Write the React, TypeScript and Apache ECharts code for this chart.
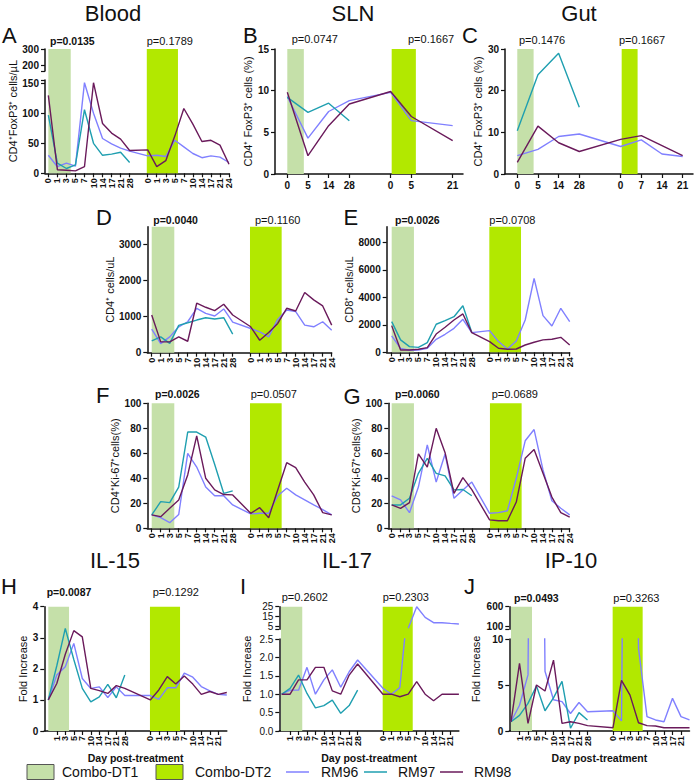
import React, { useEffect, useRef } from 'react';
import * as echarts from 'echarts';

const FONT = '"Liberation Sans", Arial, Helvetica, sans-serif';
const INK = '#111111';
const RM96_COLOR = '#8080FF';
const RM97_COLOR = '#1F9FB0';
const RM98_COLOR = '#6A1A5B';
const DT1_COLOR = '#C5E0A9';
const DT2_COLOR = '#B2E800';

const SERIES_NAMES = ['RM96', 'RM97', 'RM98'];
const SERIES_COLORS = [RM96_COLOR, RM97_COLOR, RM98_COLOR];

// x tick labels (days post-treatment)
const DAYS_P1 = ['0', '1', '3', '5', '7', '10', '14', '17', '21', '28'];
const DAYS_P2 = ['0', '1', '3', '5', '7', '10', '14', '17', '21', '24'];
const DAYS_ROT = [...DAYS_P1, ...DAYS_P2];
const SLN_DAYS = ['0', '5', '14', '28', '0', '5', '21'];
const GUT_DAYS = ['0', '5', '14', '28', '0', '7', '14', '21'];

const N = null;

// A: Blood CD4+FoxP3+ cells/uL
const A_RM96 = [30, 11, 17, 12, 151, 100, 58, 49, 42, 37, 29, 30, 28, 55, 44, 33, 26, 29, 27, 18];
const A_RM97 = [97, 17, 8, 14, 106, 50, 30, 32, 35, 18, N, N, N, N, N, N, N, N, N, N];
const A_RM98 = [130, 6, 5, 4, 11, 151, 83, 67, 57, 38, 39, 11, 21, 62, 108, 82, 53, 55, 47, 15];
// B: SLN CD4+FoxP3+ (%)
const B_RM96 = [9.3, 4.3, 7.5, 8.8, 9.8, 6.4, 5.8];
const B_RM97 = [9.2, 7.4, 8.5, 6.4, N, N, N];
const B_RM98 = [9.8, 2.2, 5.8, 8.4, 9.9, 6.9, 4.0];
// C: Gut CD4+FoxP3+ (%)
const C_RM96 = [4.4, 5.9, 9.0, 9.6, 6.6, 8.2, 4.8, 4.2];
const C_RM97 = [10.4, 23.8, 29.0, 16.0, N, N, N, N];
const C_RM98 = [2.8, 11.5, 7.5, 5.4, 8.3, 9.2, N, 4.4];
// D: CD4+ cells/uL
const D_RM96 = [654, 252, 440, 720, 860, 1234, 1093, 1019, 1215, 850, 673, 580, 440, 925, 1187, 1140, 766, 720, 860, 626];
const D_RM97 = [330, 440, 260, 760, 832, 907, 972, 935, 972, 514, N, N, N, N, N, N, N, N, N, N];
const D_RM98 = [1047, 300, 300, 440, 318, 1374, 1262, 1168, 1346, 1047, 720, 346, 560, 813, 1234, 1159, 1673, 1467, 1299, 766];
// E: CD8+ cells/uL
const E_RM96 = [1190, 290, 150, 170, 290, 945, 1310, 1745, 2400, 1430, 1575, 780, 240, 820, 2350, 5380, 2670, 1915, 3200, 2230];
const E_RM97 = [2230, 900, 410, 360, 700, 2040, 2300, 2590, 3390, 1450, N, N, N, N, N, N, N, N, N, N];
const E_RM98 = [1940, 170, 170, 220, 340, 1330, 1820, 2350, 2790, 1430, 780, 290, 220, 240, 530, 730, 900, 945, 1090, 530];
// F: CD4+Ki-67+ (%)
const F_RM96 = [10.7, 8.5, 4.5, 11, 60, 49, 33, 26, 26, 18.7, 11.5, 12, 12, 26, 32, 26.7, 22.7, 18.7, 15, 10.7];
const F_RM97 = [10.7, 21.3, 20.5, 33, 77, 77, 73, 51, 28, 30, N, N, N, N, N, N, N, N, N, N];
const F_RM98 = [10.7, 9.3, 16, 22.7, 42.7, 74, 40, 30.7, 27, 26.7, 12, 16.5, 8.5, 30.7, 52.5, 48.5, 37, 26.7, 12.5, 10.7];
// G: CD8+Ki-67+ (%)
const G_RM96 = [26, 22.7, 12.5, 33, 66.7, 37, 59.5, 24, 30.7, 37, 12, 12.5, 14, 40, 70, 79, 46.7, 22, 16, 10.7];
const G_RM97 = [18.7, 18.7, 24, 44, 56, 44, 42, 30.7, 31, 26, N, N, N, N, N, N, N, N, N, N];
const G_RM98 = [18.7, 16, 20.5, 59.5, 49, 80, 60.5, 28, 40.5, 31, 6.7, 6, 6, 21, 56, 63, 44, 25, 12.5, 9];
// H: IL-15 fold increase
const H_RM96 = [1.0, 1.8, 2.07, 2.82, 1.69, 1.37, 1.42, 1.08, 1.42, 1.14, 1.14, 1.02, 1.39, 1.39, 1.86, 1.73, 1.43, 1.29, 1.18, 1.16];
const H_RM97 = [1.0, 2.1, 3.3, 2.3, 1.37, 0.94, 1.1, 1.5, 1.07, 1.8, N, N, N, N, N, N, N, N, N, N];
const H_RM98 = [1.0, 1.53, 2.47, 3.23, 3.03, 1.37, 1.3, 1.21, 1.46, 1.37, 1.0, 1.32, 1.75, 1.51, 1.77, 1.51, 1.18, 1.27, 1.18, 1.24];
// I: IL-17 fold increase
const I_RM96 = [1.0, 1.11, 1.11, 1.73, 1.0, 1.39, 1.66, 1.19, 1.61, 1.93, 1.16, 1.0, 1.18, 3.5, 25, 14.3, 9, 9, 8.3, 7.7];
const I_RM97 = [1.0, 1.16, 1.52, 1.02, 0.63, 0.69, 0.84, 0.48, 0.69, 1.11, N, N, N, N, N, N, N, N, N, N];
const I_RM98 = [1.0, 1.0, 1.39, 1.39, 1.73, 1.73, 1.09, 1.0, 1.52, 1.82, 1.0, 1.0, 0.93, 1.0, 1.34, 1.0, 0.82, 1.0, 1.0, 1.0];
// J: IP-10 fold increase
const J_RM96 = [1.0, 2.8, 6.1, 110, 6.5, 3.4, 3.2, 1.9, 3.1, 2.1, 2.2, 1.1, 110, 9.0, 1.56, 1.2, 1.0, 3.55, 1.56, 1.2];
const J_RM97 = [1.0, 1.7, 3.0, 4.9, 2.2, 3.6, 5.4, 0.3, 2.0, 1.2, N, N, N, N, N, N, N, N, N, N];
const J_RM98 = [1.0, 7.35, 0.83, 5.0, 4.35, 7.7, 0.83, 1.0, 0.83, 0.58, 0.36, 5.5, 3.9, 0.9, 0.58, 0.54, 0.36, 0.36, 0.36, 0.36];

// p-values
const P_VALUES = [
  { t: 'p=0.0135', bold: true, x: 50, y: 40.7 }, { t: 'p=0.1789', bold: false, x: 146.7, y: 40.7 },
  { t: 'p=0.0747', bold: false, x: 291.7, y: 38.5 }, { t: 'p=0.1667', bold: false, x: 408, y: 38.5 },
  { t: 'p=0.1476', bold: false, x: 519, y: 40 }, { t: 'p=0.1667', bold: false, x: 619, y: 40 },
  { t: 'p=0.0040', bold: true, x: 153.3, y: 219.5 }, { t: 'p=0.1160', bold: false, x: 255, y: 219.5 },
  { t: 'p=0.0026', bold: true, x: 395, y: 219.5 }, { t: 'p=0.0708', bold: false, x: 489.3, y: 219.5 },
  { t: 'p=0.0026', bold: true, x: 155, y: 393.5 }, { t: 'p=0.0507', bold: false, x: 250.7, y: 393.5 },
  { t: 'p=0.0060', bold: true, x: 395, y: 393.5 }, { t: 'p=0.0689', bold: false, x: 491.7, y: 393.5 },
  { t: 'p=0.0087', bold: true, x: 46.7, y: 592.3 }, { t: 'p=0.1292', bold: false, x: 152.7, y: 592.3 },
  { t: 'p=0.2602', bold: false, x: 281.7, y: 596.5 }, { t: 'p=0.2303', bold: false, x: 382.7, y: 596.5 },
  { t: 'p=0.0493', bold: true, x: 514, y: 597.5 }, { t: 'p=0.3263', bold: false, x: 613.3, y: 597.5 },
];

const TITLES = [
  { t: 'Blood', x: 113, y: 13 }, { t: 'SLN', x: 353, y: 13 }, { t: 'Gut', x: 579, y: 13 },
  { t: 'IL-15', x: 115, y: 560 }, { t: 'IL-17', x: 347, y: 560 }, { t: 'IP-10', x: 571, y: 560 },
];
const LETTERS = [
  { t: 'A', x: 2, y: 35 }, { t: 'B', x: 243, y: 35 }, { t: 'C', x: 462, y: 35 },
  { t: 'D', x: 96, y: 217.5 }, { t: 'E', x: 343.5, y: 217 },
  { t: 'F', x: 96, y: 395 }, { t: 'G', x: 343.5, y: 396 },
  { t: 'H', x: 1, y: 586.5 }, { t: 'I', x: 240, y: 586.5 }, { t: 'J', x: 464, y: 586.5 },
];

const posRot = (off: number) => [...DAYS_P1.map((_, i) => i), ...DAYS_P2.map((_, i) => off + i)];
const SLN_POS = [0, 1, 2, 3, 5, 6, 8];
const GUT_POS = [0, 1, 2, 3, 5, 6, 7, 8];

type Seg = { top: number; bottom: number; min: number; max: number; labels: number[]; ticks: number[]; decimals?: number; bold?: boolean };
type Panel = {
  left: number; width: number; top: number; bottom: number; xMin: number; xMax: number;
  pos: number[]; days: string[]; rotate: boolean; bands: number[][]; segs: Seg[];
  yName: string; nameGap: number; xName?: string; values: (number | null)[][];
};

const FOLD = 'Fold Increase';
const DAY = 'Day post-treatment';

const PANELS: Panel[] = [
  {
    left: 45, width: 184, top: 49, bottom: 173.3, xMin: -0.37, xMax: 20, pos: posRot(11), days: DAYS_ROT, rotate: true,
    bands: [[0, 2.48], [10.9, 14.35]],
    segs: [
      { top: 80, bottom: 173.3, min: 0, max: 155.5, labels: [0, 50, 100, 150], ticks: [0, 50, 100, 150, 155.5] },
      { top: 49, bottom: 71, min: 162.5, max: 300, labels: [200, 300], ticks: [162.5, 200, 300] },
    ],
    yName: 'CD4⁺FoxP3⁺ cells/µL', nameGap: 27, values: [A_RM96, A_RM97, A_RM98],
  },
  {
    left: 275, width: 188, top: 49, bottom: 174, xMin: -0.595, xMax: 8.5, pos: SLN_POS, days: SLN_DAYS, rotate: false,
    bands: [[0, 0.8], [5.05, 6.22]],
    segs: [{ top: 49, bottom: 174, min: 0, max: 15, labels: [0, 5, 10, 15], ticks: [0, 5, 10, 15] }],
    yName: 'CD4⁺ FoxP3⁺ cells (%)', nameGap: 11, values: [B_RM96, B_RM97, B_RM98],
  },
  {
    left: 505, width: 188, top: 49, bottom: 174, xMin: -0.594, xMax: 8.5, pos: GUT_POS, days: GUT_DAYS, rotate: false,
    bands: [[0, 0.79], [5.05, 5.82]],
    segs: [{ top: 49, bottom: 174, min: 0, max: 30, labels: [0, 10, 20, 30], ticks: [0, 10, 20, 30] }],
    yName: 'CD4⁺ FoxP3⁺ cells (%)', nameGap: 11, values: [C_RM96, C_RM97, C_RM98],
  },
  {
    left: 147.3, width: 184.4, top: 226.7, bottom: 352.7, xMin: -0.49, xMax: 20, pos: posRot(11), days: DAYS_ROT, rotate: true,
    bands: [[0, 2.51], [10.92, 14.44]],
    segs: [{ top: 226.7, bottom: 352.7, min: 0, max: 3500, labels: [0, 1000, 2000, 3000], ticks: [0, 1000, 2000, 3000] }],
    yName: 'CD4⁺ cells/uL', nameGap: 31, values: [D_RM96, D_RM97, D_RM98],
  },
  {
    left: 386.7, width: 183, top: 226.7, bottom: 352.3, xMin: -0.56, xMax: 20, pos: posRot(11), days: DAYS_ROT, rotate: true,
    bands: [[0, 2.5], [10.97, 14.53]],
    segs: [{ top: 226.7, bottom: 352.3, min: 0, max: 9135, labels: [0, 2000, 4000, 6000, 8000], ticks: [0, 2000, 4000, 6000, 8000] }],
    yName: 'CD8⁺ cells/uL', nameGap: 30.7, values: [E_RM96, E_RM97, E_RM98],
  },
  {
    left: 147.3, width: 184.4, top: 403.3, bottom: 528.3, xMin: -0.49, xMax: 20, pos: posRot(11), days: DAYS_ROT, rotate: true,
    bands: [[0, 2.51], [10.92, 14.44]],
    segs: [{ top: 403.3, bottom: 528.3, min: 0, max: 100, labels: [0, 20, 40, 60, 80, 100], ticks: [0, 20, 40, 60, 80, 100] }],
    yName: 'CD4⁺Ki-67⁺cells(%)', nameGap: 26, values: [F_RM96, F_RM97, F_RM98],
  },
  {
    left: 388.3, width: 181.4, top: 403.3, bottom: 528.3, xMin: -0.38, xMax: 20, pos: posRot(11), days: DAYS_ROT, rotate: true,
    bands: [[0, 2.5], [11.04, 14.6]],
    segs: [{ top: 403.3, bottom: 528.3, min: 0, max: 100, labels: [0, 20, 40, 60, 80, 100], ticks: [0, 20, 40, 60, 80, 100] }],
    yName: 'CD8⁺Ki-67⁺cells(%)', nameGap: 25.6, values: [G_RM96, G_RM97, G_RM98],
  },
  {
    left: 44.3, width: 182.5, top: 606.7, bottom: 731, xMin: -0.47, xMax: 21, pos: posRot(12), days: DAYS_ROT, rotate: true,
    bands: [[0, 2.44], [11.96, 15.5]],
    segs: [{ top: 606.7, bottom: 731, min: 0, max: 4, labels: [0, 1, 2, 3, 4], ticks: [0, 1, 2, 3, 4] }],
    yName: FOLD, nameGap: 15.6, xName: DAY, values: [H_RM96, H_RM97, H_RM98],
  },
  {
    left: 279.3, width: 179.6, top: 606.7, bottom: 731, xMin: -0.28, xMax: 21, pos: posRot(12), days: DAYS_ROT, rotate: true,
    bands: [[-0.08, 2.44], [11.97, 15.53]],
    segs: [
      { top: 639, bottom: 731, min: 0, max: 2.5, labels: [0, 0.5, 1, 1.5, 2, 2.5], ticks: [0, 0.5, 1, 1.5, 2, 2.5], decimals: 1, bold: false },
      { top: 606.7, bottom: 629.3, min: 2.4, max: 25, labels: [5, 15, 25], ticks: [2.4, 5, 15, 25], bold: false },
    ],
    yName: FOLD, nameGap: 26.6, xName: DAY, values: [I_RM96, I_RM97, I_RM98],
  },
  {
    left: 509.3, width: 180.2, top: 606.7, bottom: 731, xMin: -0.2, xMax: 21, pos: posRot(12), days: DAYS_ROT, rotate: true,
    bands: [[0, 2.47], [11.96, 15.49]],
    segs: [
      { top: 639, bottom: 731, min: 0, max: 10, labels: [0, 5, 10], ticks: [0, 5, 10] },
      { top: 606.7, bottom: 629.3, min: 35, max: 600, labels: [100, 600], ticks: [35, 100, 600] },
    ],
    yName: FOLD, nameGap: 28.3, xName: DAY, values: [J_RM96, J_RM97, J_RM98],
  },
];

function buildOption() {
  const grid: any[] = [];
  const xAxis: any[] = [];
  const yAxis: any[] = [];
  const series: any[] = [];
  const nameStyle = { fontSize: 11, color: INK, fontFamily: FONT };

  PANELS.forEach((p) => {
    const labelMap: Record<string, string> = {};
    p.pos.forEach((x, i) => { labelMap[String(x)] = p.days[i]; });

    const addGrid = (top: number, bottom: number) => {
      grid.push({ left: p.left, top, width: p.width, height: bottom - top, containLabel: false });
      return grid.length - 1;
    };
    const addX = (gi: number, visible: boolean) => {
      xAxis.push({
        type: 'value', gridIndex: gi, min: p.xMin, max: p.xMax, show: true,
        axisLine: { show: visible, onZero: false, lineStyle: { color: INK, width: 1.5 } },
        axisTick: { show: visible, customValues: p.pos, length: 4, lineStyle: { color: INK, width: 1.2 } },
        axisLabel: {
          show: visible, customValues: p.pos,
          formatter: (v: number) => labelMap[String(v)] ?? '',
          rotate: p.rotate ? 90 : 0, fontSize: p.rotate ? 9 : 10, fontWeight: 'bold',
          color: INK, fontFamily: FONT, margin: p.rotate ? 5 : 6,
        },
        splitLine: { show: false },
        name: visible && p.xName ? p.xName : '', nameLocation: 'middle', nameGap: 21,
        nameTextStyle: { fontSize: 10.5, fontWeight: 'bold', color: INK, fontFamily: FONT },
      });
      return xAxis.length - 1;
    };
    const addY = (gi: number, s: Seg | null, withName: boolean) => {
      const base: any = {
        type: 'value', gridIndex: gi, show: true,
        splitLine: { show: false },
        name: withName ? p.yName : '', nameLocation: 'middle', nameGap: p.nameGap, nameTextStyle: nameStyle,
      };
      if (s) {
        Object.assign(base, {
          min: s.min, max: s.max,
          axisLine: { show: true, onZero: false, lineStyle: { color: INK, width: 1.5 } },
          axisTick: { show: true, customValues: s.ticks, length: 4, lineStyle: { color: INK, width: 1.2 } },
          axisLabel: {
            customValues: s.labels,
            formatter: (v: number) => (s.decimals ? v.toFixed(s.decimals) : String(v)),
            fontSize: 10, fontWeight: s.bold === false ? 'normal' : 'bold', color: INK, fontFamily: FONT, margin: 6,
          },
        });
      } else {
        Object.assign(base, {
          min: 0, max: 1,
          axisLine: { show: false, onZero: false },
          axisTick: { show: false },
          axisLabel: { show: false },
        });
      }
      yAxis.push(base);
      return yAxis.length - 1;
    };
    const addBands = (xi: number, yi: number, yMin: number) => {
      series.push({
        type: 'line', xAxisIndex: xi, yAxisIndex: yi, data: [[p.xMin, yMin]], symbol: 'none', silent: true,
        lineStyle: { opacity: 0, width: 0 }, z: 1,
        markArea: {
          silent: true, label: { show: false },
          data: [
            [{ xAxis: p.bands[0][0], itemStyle: { color: DT1_COLOR, opacity: 1 } }, { xAxis: p.bands[0][1] }],
            [{ xAxis: p.bands[1][0], itemStyle: { color: DT2_COLOR, opacity: 1 } }, { xAxis: p.bands[1][1] }],
          ],
        },
      });
    };
    // upperOnly: in an upper (broken-axis) segment only values at or above its floor are drawn
    const addLines = (xi: number, yi: number, floor: number | null) => {
      p.values.forEach((vals, k) => {
        let data: any[];
        if (floor === null) {
          data = p.pos.map((x, i) => [x, vals[i]]).filter((d) => d[1] !== null && d[1] !== undefined);
        } else {
          data = p.pos.map((x, i) => [x, vals[i] !== null && (vals[i] as number) >= floor ? vals[i] : '-']);
        }
        series.push({
          type: 'line', name: SERIES_NAMES[k], xAxisIndex: xi, yAxisIndex: yi, data,
          showSymbol: false, symbol: 'none', silent: true, clip: true, z: 5,
          connectNulls: floor === null,
          lineStyle: { color: SERIES_COLORS[k], width: 1.4 },
          itemStyle: { color: SERIES_COLORS[k] },
        });
      });
    };

    if (p.segs.length === 1) {
      const gi = addGrid(p.top, p.bottom);
      const xi = addX(gi, true);
      const yi = addY(gi, p.segs[0], true);
      addBands(xi, yi, p.segs[0].min);
      addLines(xi, yi, null);
    } else {
      const gb = addGrid(p.top, p.bottom);
      const xb = addX(gb, true);
      const yb = addY(gb, null, true);
      addBands(xb, yb, 0);
      p.segs.forEach((s, si) => {
        const gi = addGrid(s.top, s.bottom);
        const xi = addX(gi, false);
        const yi = addY(gi, s, false);
        addLines(xi, yi, si === 0 ? null : s.min);
      });
    }
  });

  const txt = (text: string, x: number, y: number, size: number, bold = false, align = 'left') => ({
    type: 'text', x, y, silent: true,
    style: { text, fontSize: size, fontFamily: FONT, fill: INK, align, verticalAlign: 'middle', fontWeight: bold ? 'bold' : 'normal' },
  });

  const graphic: any[] = [];
  TITLES.forEach((t) => graphic.push(txt(t.t, t.x, t.y, 22, false, 'center')));
  LETTERS.forEach((t) => graphic.push(txt(t.t, t.x, t.y, 22, false, 'left')));
  P_VALUES.forEach((t) => graphic.push(txt(t.t, t.x, t.y, t.bold ? 10.5 : 11, t.bold, 'left')));

  // legend
  const ly = 772;
  graphic.push({ type: 'rect', silent: true, shape: { x: 27, y: 764.5, width: 27, height: 15 }, style: { fill: DT1_COLOR, stroke: '#555', lineWidth: 1 } });
  graphic.push(txt('Combo-DT1', 62, ly, 14));
  graphic.push({ type: 'rect', silent: true, shape: { x: 156, y: 764.5, width: 27, height: 15 }, style: { fill: DT2_COLOR, stroke: '#555', lineWidth: 1 } });
  graphic.push(txt('Combo-DT2', 195, ly, 14));
  const legendLines = [[286, 309, 321], [364, 387, 398], [440, 463, 474]];
  legendLines.forEach((l, k) => {
    graphic.push({ type: 'line', silent: true, shape: { x1: l[0], y1: ly, x2: l[1], y2: ly }, style: { stroke: SERIES_COLORS[k], lineWidth: 1.5 } });
    graphic.push(txt(SERIES_NAMES[k], l[2], ly, 14));
  });

  return {
    animation: false,
    backgroundColor: '#ffffff',
    textStyle: { fontFamily: FONT },
    grid, xAxis, yAxis, series, graphic,
  };
}

export default function App() {
  const ref = useRef<HTMLDivElement>(null);
  useEffect(() => {
    document.body.style.margin = '0';
    if (!ref.current) return;
    const chart = echarts.init(ref.current, undefined, { renderer: 'svg' });
    chart.setOption(buildOption() as any);
    return () => chart.dispose();
  }, []);
  return <div ref={ref} style={{ position: 'fixed', left: 0, top: 0, width: 696, height: 782, background: '#fff' }} />;
}
